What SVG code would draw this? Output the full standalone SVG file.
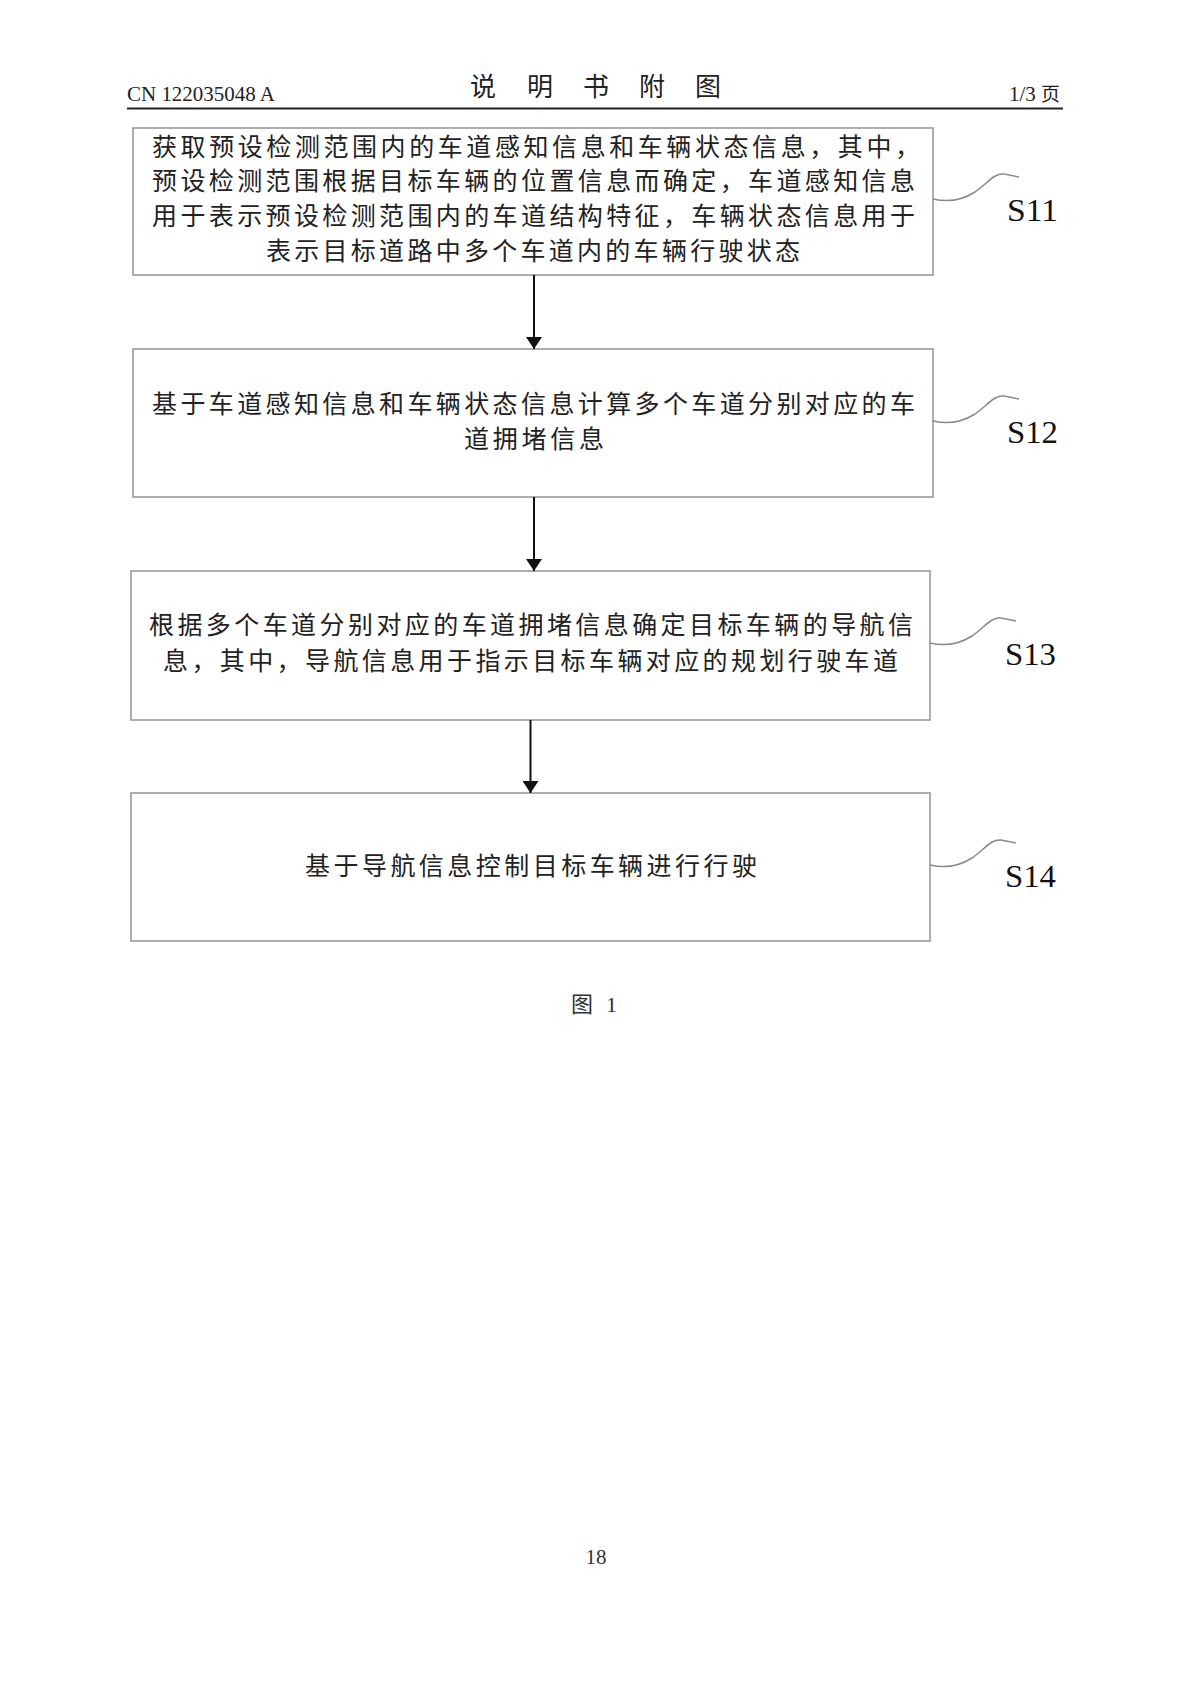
<svg xmlns="http://www.w3.org/2000/svg" width="1191" height="1684" viewBox="0 0 1191 1684">
<style>
.box{fill:#fff;stroke:#9a9a9a;stroke-width:1.6}
.t{font-family:"Noto Sans CJK SC","Noto Sans CJK JP",sans-serif;font-size:25px;fill:#222}
.lbl{font-family:"Liberation Serif",serif;font-size:31px;fill:#111}
.sq{fill:none;stroke:#8a8a8a;stroke-width:1.5}
.conn{stroke:#111;stroke-width:2;fill:none}
.hdr{font-family:"Liberation Serif","Noto Sans CJK SC",serif;fill:#222}
.ttl{font-family:"Noto Sans CJK SC",sans-serif;font-size:26px;fill:#222;text-anchor:middle}
</style>
<defs>
<marker id="ah" viewBox="0 0 12 16" refX="12" refY="8" markerWidth="12" markerHeight="16" markerUnits="userSpaceOnUse" orient="auto">
<path d="M0,0 L12,8 L0,16 z" fill="#111"/>
</marker>
</defs>
<rect width="1191" height="1684" fill="#fff"/>
<g id="header">
<text class="hdr" x="127" y="101" font-size="21" textLength="148" lengthAdjust="spacingAndGlyphs">CN 122035048 A</text>
<text class="ttl" x="483" y="96">说</text>
<text class="ttl" x="540" y="96">明</text>
<text class="ttl" x="596" y="96">书</text>
<text class="ttl" x="652" y="96">附</text>
<text class="ttl" x="708" y="96">图</text>
<text class="hdr" x="1060" y="101" font-size="21" text-anchor="end">1/3 <tspan font-family="Noto Sans CJK SC,sans-serif" font-size="19">页</tspan></text>
<line x1="127" y1="108.5" x2="1063" y2="108.5" stroke="#222" stroke-width="2.2"/>
</g>
<g id="S11">
<rect class="box" x="133" y="128" width="800" height="147"/>
<text class="t" x="152" y="156" textLength="768" lengthAdjust="spacing">获取预设检测范围内的车道感知信息和车辆状态信息，其中，</text>
<text class="t" x="152" y="190" textLength="763" lengthAdjust="spacing">预设检测范围根据目标车辆的位置信息而确定，车道感知信息</text>
<text class="t" x="152" y="225" textLength="763" lengthAdjust="spacing">用于表示预设检测范围内的车道结构特征，车辆状态信息用于</text>
<text class="t" x="266" y="260" textLength="534" lengthAdjust="spacing">表示目标道路中多个车道内的车辆行驶状态</text>
<path class="sq" d="M933,199 C950,203 964,199 975,192 C988,183 994,173 1004,174 L1019,177"/>
<text class="lbl" x="1007" y="221" textLength="51" lengthAdjust="spacingAndGlyphs">S11</text>
</g>
<g id="S12">
<rect class="box" x="133" y="349" width="800" height="148"/>
<text class="t" x="152" y="413" textLength="763" lengthAdjust="spacing">基于车道感知信息和车辆状态信息计算多个车道分别对应的车</text>
<text class="t" x="464" y="448" textLength="140" lengthAdjust="spacing">道拥堵信息</text>
<path class="sq" d="M933,421 C950,425 964,421 975,414 C988,405 994,395 1004,396 L1019,399"/>
<text class="lbl" x="1007" y="443" textLength="51" lengthAdjust="spacingAndGlyphs">S12</text>
</g>
<g id="S13">
<rect class="box" x="131" y="571" width="799" height="149"/>
<text class="t" x="149" y="634" textLength="764" lengthAdjust="spacing">根据多个车道分别对应的车道拥堵信息确定目标车辆的导航信</text>
<text class="t" x="163" y="670" textLength="735" lengthAdjust="spacing">息，其中，导航信息用于指示目标车辆对应的规划行驶车道</text>
<path class="sq" d="M930,643 C947,647 961,643 972,636 C985,627 991,617 1001,618 L1016,621"/>
<text class="lbl" x="1005" y="665" textLength="51" lengthAdjust="spacingAndGlyphs">S13</text>
</g>
<g id="S14">
<rect class="box" x="131" y="793" width="799" height="148"/>
<text class="t" x="305" y="875" textLength="452" lengthAdjust="spacing">基于导航信息控制目标车辆进行行驶</text>
<path class="sq" d="M930,865 C947,869 961,865 972,858 C985,849 991,839 1001,840 L1016,843"/>
<text class="lbl" x="1005" y="887" textLength="51" lengthAdjust="spacingAndGlyphs">S14</text>
</g>
<g id="connectors">
<line class="conn" x1="534" y1="275" x2="534" y2="349" marker-end="url(#ah)"/>
<line class="conn" x1="534" y1="497" x2="534" y2="571" marker-end="url(#ah)"/>
<line class="conn" x1="530.5" y1="720" x2="530.5" y2="793" marker-end="url(#ah)"/>
</g>
<g id="footer">
<text x="571" y="1012" font-family="Noto Sans CJK SC,sans-serif" font-size="22" fill="#333">图</text>
<text x="606" y="1012" font-family="Liberation Serif,serif" font-size="22" fill="#333">1</text>
<text x="596" y="1564" text-anchor="middle" font-family="Liberation Serif,serif" font-size="21" fill="#333">18</text>
</g>
</svg>
